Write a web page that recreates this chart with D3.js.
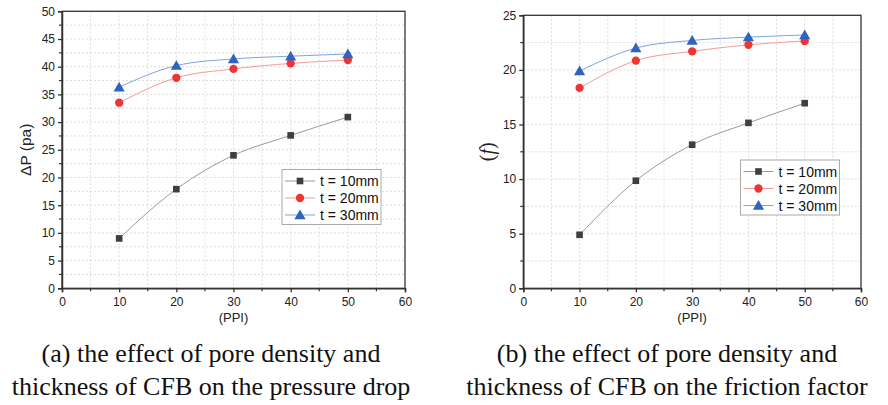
<!DOCTYPE html>
<html>
<head>
<meta charset="utf-8">
<script src="https://cdn.jsdelivr.net/npm/d3@7"></script>
<style>
body { margin: 0; background: #fff; }
svg { display: block; }
.tick text { font-family: "Liberation Sans", Arial, sans-serif; font-size: 12px; fill: #222; }
.caption { font-family: "Liberation Serif", "Times New Roman", serif; font-size: 26px; fill: #111; }
</style>
</head>
<body>
<div id="chart"></div>
<script>
var width = 888, height = 405;

var ppi = [10, 20, 30, 40, 50];
var seriesNames = ['t = 10mm', 't = 20mm', 't = 30mm'];
// pressure drop (pa)
var dp10 = [9.0, 17.9, 24.0, 27.6, 30.9];
var dp20 = [33.5, 38.0, 39.6, 40.6, 41.2];
var dp30 = [36.3, 40.2, 41.4, 41.9, 42.3];
// friction factor
var f10 = [4.9, 9.85, 13.15, 15.15, 16.95];
var f20 = [18.35, 20.85, 21.7, 22.3, 22.65];
var f30 = [19.9, 22.0, 22.7, 23.0, 23.2];

var xTicks = [0, 10, 20, 30, 40, 50, 60];
var dpTicks = [0, 5, 10, 15, 20, 25, 30, 35, 40, 45, 50];
var fTicks = [0, 5, 10, 15, 20, 25];

var markerColors = ['#3f3f3f', '#f03434', '#2f63c0'];
var lineColors = ['#9a9a9a', '#f49a9a', '#7fa3dc'];
var shapes = [d3.symbolSquare, d3.symbolCircle, d3.symbolTriangle];
var sizes = [44, 54, 54];

var svg = d3.select('#chart').append('svg')
    .attr('width', width)
    .attr('height', height);

function drawPanel(opt) {
    var x = d3.scaleLinear().domain([0, 60]).range([opt.left, opt.right]);
    var y = d3.scaleLinear().domain([0, opt.yMax]).range([opt.bottom, opt.top]);
    var g = svg.append('g');

    // grid, every half tick
    var xg = d3.range(5, 60, 5);
    var yg = d3.range(opt.yStep / 2, opt.yMax, opt.yStep / 2);
    g.selectAll('.gx').data(xg).join('line')
        .attr('x1', d => x(d)).attr('x2', d => x(d))
        .attr('y1', opt.top).attr('y2', opt.bottom)
        .attr('stroke', '#d4d4d4').attr('stroke-width', 0.8)
        .attr('stroke-dasharray', '2,2');
    g.selectAll('.gy').data(yg).join('line')
        .attr('x1', opt.left).attr('x2', opt.right)
        .attr('y1', d => y(d)).attr('y2', d => y(d))
        .attr('stroke', '#d4d4d4').attr('stroke-width', 0.8)
        .attr('stroke-dasharray', '2,2');

    // frame
    g.append('rect')
        .attr('x', opt.left).attr('y', opt.top)
        .attr('width', opt.right - opt.left).attr('height', opt.bottom - opt.top)
        .attr('fill', 'none').attr('stroke', '#333').attr('stroke-width', 1.3);

    // minor ticks
    g.selectAll('.mx').data(d3.range(5, 60, 10)).join('line')
        .attr('x1', d => x(d)).attr('x2', d => x(d))
        .attr('y1', opt.bottom).attr('y2', opt.bottom + 3)
        .attr('stroke', '#333').attr('stroke-width', 1.2);
    g.selectAll('.my').data(d3.range(opt.yStep / 2, opt.yMax, opt.yStep)).join('line')
        .attr('x1', opt.left - 3).attr('x2', opt.left)
        .attr('y1', d => y(d)).attr('y2', d => y(d))
        .attr('stroke', '#333').attr('stroke-width', 1.2);

    var xAxis = g.append('g')
        .attr('transform', `translate(0,${opt.bottom})`)
        .call(d3.axisBottom(x).tickValues(xTicks).tickSize(4).tickPadding(5));
    var yAxis = g.append('g')
        .attr('transform', `translate(${opt.left},0)`)
        .call(d3.axisLeft(y).tickValues(opt.ticks).tickSize(4).tickPadding(3));
    [xAxis, yAxis].forEach(function(a) {
        a.select('.domain').attr('stroke', '#333').attr('stroke-width', 1.5);
        a.selectAll('.tick line').attr('stroke', '#333').attr('stroke-width', 1.3);
        a.attr('font-size', null).attr('font-family', null);
    });

    // x label
    g.append('text')
        .attr('x', (opt.left + opt.right) / 2).attr('y', 322)
        .attr('text-anchor', 'middle')
        .style('font-family', '"Liberation Sans", Arial, sans-serif')
        .style('font-size', '13px').style('fill', '#222')
        .text('(PPI)');

    // y label
    var yl = g.append('text')
        .attr('transform', `translate(${opt.yLabelX},${(opt.top + opt.bottom) / 2}) rotate(-90)`)
        .attr('text-anchor', 'middle');
    opt.yLabel(yl);

    // series
    var line = d3.line()
        .x((d, i) => x(ppi[i]))
        .y(d => y(d))
        .curve(d3.curveMonotoneX);
    opt.data.forEach(function(vals, k) {
        g.append('path')
            .attr('d', line(vals))
            .attr('fill', 'none')
            .attr('stroke', lineColors[k])
            .attr('stroke-width', 1);
    });
    opt.data.forEach(function(vals, k) {
        g.selectAll('.m' + k).data(vals).join('path')
            .attr('transform', (d, i) => `translate(${x(ppi[i])},${y(d) + (k == 2 ? 1 : 0)})`)
            .attr('d', d3.symbol().type(shapes[k]).size(sizes[k]))
            .attr('fill', markerColors[k]);
    });

    // legend
    var lg = g.append('g').attr('transform', `translate(${opt.legX},${opt.legY})`);
    lg.append('rect')
        .attr('x', 0).attr('y', 0).attr('width', 99).attr('height', 55)
        .attr('fill', '#fff').attr('stroke', '#aaa').attr('stroke-width', 1);
    seriesNames.forEach(function(name, k) {
        var ry = 11.5 + k * 17;
        lg.append('line')
            .attr('x1', 3).attr('x2', 33).attr('y1', ry).attr('y2', ry)
            .attr('stroke', lineColors[k]).attr('stroke-width', 1);
        lg.append('path')
            .attr('transform', `translate(18,${ry + (k == 2 ? 1 : 0)})`)
            .attr('d', d3.symbol().type(shapes[k]).size(sizes[k]))
            .attr('fill', markerColors[k]);
        lg.append('text')
            .attr('x', 38).attr('y', ry + 5)
            .style('font-family', '"Liberation Sans", Arial, sans-serif')
            .style('font-size', '14px').style('fill', '#111')
            .text(name);
    });
}

drawPanel({
    left: 62, right: 405, top: 11.3, bottom: 288.3,
    yMax: 50, yStep: 5, ticks: dpTicks,
    data: [dp10, dp20, dp30],
    legX: 282, legY: 169.5, yLabelX: 31,
    yLabel: function(t) {
        t.style('font-family', '"Liberation Sans", Arial, sans-serif')
         .style('font-size', '15.5px').style('fill', '#222')
         .text('\u0394P (pa)');
    }
});

drawPanel({
    left: 523.3, right: 861, top: 15.3, bottom: 288.3,
    yMax: 25, yStep: 5, ticks: fTicks,
    data: [f10, f20, f30],
    legX: 740.5, legY: 160, yLabelX: 494,
    yLabel: function(t) {
        t.style('font-family', '"Liberation Serif", "Times New Roman", serif')
         .style('font-size', '20px').style('fill', '#222');
        t.append('tspan').text('(');
        t.append('tspan').style('font-style', 'italic').text('f');
        t.append('tspan').text(')');
    }
});

// captions
var captions = [
    ['(a) the effect of pore density and', 'thickness of CFB on the pressure drop'],
    ['(b) the effect of pore density and', 'thickness of CFB on the friction factor']
];
var capX = [211, 667];
captions.forEach(function(c, i) {
    c.forEach(function(s, j) {
        svg.append('text')
            .attr('class', 'caption')
            .attr('x', capX[i]).attr('y', 362 + j * 33)
            .attr('text-anchor', 'middle')
            .text(s);
    });
});
</script>
</body>
</html>
